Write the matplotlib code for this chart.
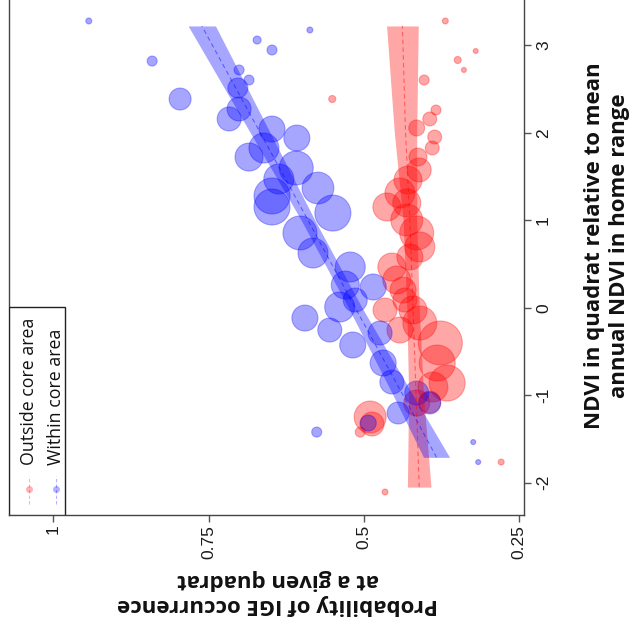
import numpy as np
import matplotlib.pyplot as plt
from matplotlib.patches import Rectangle

# quadrats within the core area (blue): NDVI anomaly, probability, n
blue_ndvi = [3.277, 2.819, 2.385, 3.059, 2.945, 3.174, 2.717, 2.602, 2.511, 2.271,
             2.157, 2.042, 1.939, 1.825, 1.722, 1.597, 1.471, 1.277, 1.151, 1.368,
             0.854, 1.082, 0.625, 0.465, 0.237, 0.008, -0.118, 0.088, -0.255, -0.426,
             -0.289, -0.632, -0.849, -0.975, -1.089, -1.203, -1.318, -1.535, -1.764, -1.421,
             0.259]
blue_prob = [0.943, 0.841, 0.796, 0.672, 0.648, 0.587, 0.701, 0.685, 0.703, 0.701,
             0.717, 0.648, 0.608, 0.661, 0.685, 0.609, 0.637, 0.648, 0.648, 0.574,
             0.603, 0.550, 0.582, 0.522, 0.485, 0.539, 0.595, 0.514, 0.555, 0.518,
             0.474, 0.469, 0.455, 0.415, 0.394, 0.445, 0.493, 0.324, 0.316, 0.576,
             0.530]
blue_n = [1, 2.8, 13.4, 1.8, 2.8, 1, 2.8, 2.8, 11.1, 16,
          16, 18.8, 18.8, 25, 21.8, 32, 25, 36, 36, 28,
          32, 36, 25, 25, 18.8, 25, 18.8, 16, 16, 18.8,
          16, 18.8, 16, 16, 13.4, 13.4, 7.1, 0.7, 0.7, 2.8,
          21.8]

# quadrats outside the core area (red)
red_ndvi = [3.277, 2.934, 2.831, 2.717, 2.602, 2.385, 2.259, 2.157, 2.054, 1.951,
            1.825, 1.722, 1.574, 1.459, 1.311, 1.197, 1.151, 1.002, 0.854, 0.694,
            0.579, 0.465, 0.317, 0.202, -0.026, -0.175, -0.403, -0.632, -0.861, -0.906,
            -1.089, -1.078, -1.249, -1.421, -2.106, -1.764, -0.026, -0.255, 0.088, -1.329]
red_prob = [0.369, 0.320, 0.349, 0.339, 0.403, 0.551, 0.384, 0.394, 0.415, 0.386,
            0.390, 0.413, 0.411, 0.429, 0.442, 0.431, 0.463, 0.431, 0.415, 0.410,
            0.426, 0.455, 0.447, 0.437, 0.421, 0.410, 0.377, 0.382, 0.366, 0.389,
            0.415, 0.394, 0.490, 0.506, 0.466, 0.279, 0.466, 0.442, 0.434, 0.487]
red_n = [1, 0.7, 1.4, 0.7, 2.8, 1.4, 2.8, 5.4, 7.1, 5.4,
         5.4, 9, 16, 21.8, 25, 21.8, 21.8, 28.4, 32, 25,
         18.8, 21.8, 21.8, 18.8, 21.8, 32, 53.8, 36, 36, 25,
         18.8, 13.4, 28.4, 2.8, 1, 1, 16, 18.8, 16, 16]

# model fits with 95% CI half-width
blue_fit_ndvi = [-1.71, -1, 0, 1, 2, 3.22]
blue_fit = [0.383, 0.437, 0.514, 0.590, 0.667, 0.761]
blue_hw = [0.021, 0.016, 0.011, 0.011, 0.016, 0.022]
red_fit_ndvi = [-2.05, -1, 0, 1, 2, 3.22]
red_fit = [0.411, 0.416, 0.421, 0.426, 0.433, 0.438]
red_hw = [0.019, 0.012, 0.010, 0.011, 0.018, 0.0255]

prob_ticks = [1, 0.75, 0.5, 0.25]
ndvi_ticks = [-2, -1, 0, 1, 2, 3]

BLUE = (0, 0, 1)
RED = (1, 0, 0)

fig = plt.figure(figsize=(6.36, 6.31), dpi=100)
ax = fig.add_axes([0.01415, 0.1838, 0.8090, 0.8162])

# points
for nd, pr, n, col in [(red_ndvi, red_prob, red_n, RED),
                       (blue_ndvi, blue_prob, blue_n, BLUE)]:
    ax.scatter(pr, nd, s=np.array(n) * 18.7, facecolor=col + (0.35,),
               edgecolor=col + (0.3,), linewidths=0.8, zorder=2)

# fitted curves
for v, f, hw, col in [(red_fit_ndvi, red_fit, red_hw, RED),
                      (blue_fit_ndvi, blue_fit, blue_hw, BLUE)]:
    f = np.array(f)
    hw = np.array(hw)
    ax.fill_betweenx(v, f - hw, f + hw, color=col + (0.35,), lw=0, zorder=3)
    ax.plot(f, v, color=col + (0.45,), lw=0.8, dashes=(4, 3), zorder=4)

ax.set_xlim(1.0715, 0.243)
ax.set_ylim(-2.369, 3.5166)

ax.yaxis.tick_right()
ax.set_xticks(prob_ticks)
ax.set_xticklabels(['1', '0.75', '0.5', '0.25'])
ax.set_yticks(ndvi_ticks)
ax.set_yticklabels(['-2', '-1', '0', '1', '2', '3'])
ax.tick_params(axis='both', length=5, width=1, color='#555555', labelsize=12.5,
               labelcolor='#1a1a1a')
ax.tick_params(axis='x', pad=2, labelrotation=90)
ax.tick_params(axis='y', pad=4, labelrotation=90)
for lab in ax.get_xticklabels() + ax.get_yticklabels():
    lab.set_fontfamily('Liberation Sans')
for lab in ax.get_yticklabels():
    lab.set_va('center')
    lab.set_ha('left')

ax.spines['top'].set_visible(False)
for s in ['left', 'right', 'bottom']:
    ax.spines[s].set_color('#444444')
    ax.spines[s].set_linewidth(1)

# legend (rotated like the rest of the figure)
ax.add_patch(Rectangle((0, 0), 0.1088, 0.404, transform=ax.transAxes,
                       facecolor='white', edgecolor='#222222', lw=1, zorder=5))
for xa, col, txt in [(0.0398, RED, 'Outside core area'),
                     (0.0913, BLUE, 'Within core area')]:
    ax.plot([xa, xa], [0.0214, 0.0757], transform=ax.transAxes, color=col + (0.3,),
            lw=0.8, dashes=(3, 2), zorder=6)
    ax.plot([xa], [0.0505], 'o', transform=ax.transAxes, ms=5, color=col + (0.3,),
            mec='none', zorder=6)
    ax.text(xa, 0.097, txt, transform=ax.transAxes, rotation=90, ha='center',
            va='bottom', fontsize=12.8, family='Open Sans', color='#111111', zorder=7)

fig.text(607 / 636, 1 - 246 / 631,
         'NDVI in quadrat relative to mean\nannual NDVI in home range',
         rotation=90, ha='center', va='center', multialignment='center',
         fontsize=16, fontweight='bold', family='Open Sans', color='#111111',
         linespacing=1.3)
fig.text(278 / 636, 1 - 592 / 631,
         'Probability of IGE occurrence\nat a given quadrat',
         rotation=180, ha='center', va='center', multialignment='center',
         fontsize=16, fontweight='bold', family='Open Sans', color='#111111',
         linespacing=1.3)

fig.savefig('out.png', dpi=100)
